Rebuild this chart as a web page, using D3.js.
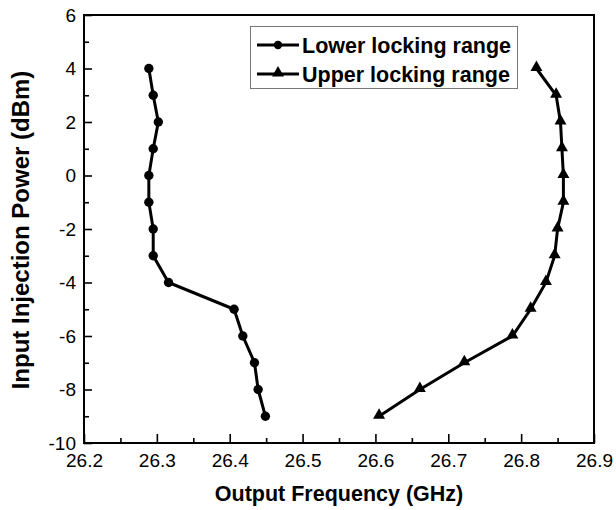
<!DOCTYPE html>
<html>
<head>
<meta charset="utf-8">
<script src="https://cdn.jsdelivr.net/npm/d3@7"></script>
<style>
  body { margin: 0; background: #fff; }
  text { font-family: "Liberation Sans", Arial, sans-serif; fill: #000; }
</style>
</head>
<body>
<div id="chart"></div>
<script>
// input power (dBm) for each measured point
var power = [4, 3, 2, 1, 0, -1, -2, -3, -4, -5, -6, -7, -8, -9];
// lower edge of locking range (GHz)
var lowerFreq = [26.289, 26.295, 26.302, 26.295, 26.289, 26.289, 26.295, 26.295,
                 26.316, 26.406, 26.418, 26.434, 26.439, 26.449];
// upper edge of locking range (GHz)
var upperFreq = [26.821, 26.848, 26.854, 26.856, 26.858, 26.858, 26.850, 26.846,
                 26.834, 26.813, 26.788, 26.722, 26.661, 26.605];

var xTicks = [26.2, 26.3, 26.4, 26.5, 26.6, 26.7, 26.8, 26.9];
var xMinor = [26.25, 26.35, 26.45, 26.55, 26.65, 26.75, 26.85];
var yTicks = [-10, -8, -6, -4, -2, 0, 2, 4, 6];
var yMinor = [-9, -7, -5, -3, -1, 1, 3, 5];

var seriesNames = ['Lower locking range', 'Upper locking range'];

var width = 616,
    height = 510;

var svg = d3.select('#chart')
    .append('svg')
    .attr('width', width)
    .attr('height', height);

var x = d3.scaleLinear().domain([26.2, 26.9]).range([84, 594]);
var y = d3.scaleLinear().domain([-10, 6]).range([443, 15]);

// frame
svg.append('rect')
    .attr('x', x(26.2))
    .attr('y', y(6))
    .attr('width', x(26.9) - x(26.2))
    .attr('height', y(-10) - y(6))
    .attr('fill', 'none')
    .attr('stroke', '#000')
    .attr('stroke-width', 2);

var styleAxis = function (g) {
    g.select('.domain').remove();
    g.selectAll('line').attr('stroke', '#000').attr('stroke-width', 1.6);
    g.selectAll('text')
        .attr('font-size', 19)
        .attr('font-family', '"Liberation Sans", Arial, sans-serif')
        .attr('fill', '#000');
};

// x axis, ticks pointing inward
svg.append('g')
    .attr('transform', 'translate(0,' + y(-10) + ')')
    .call(d3.axisBottom(x).tickValues(xMinor).tickSize(-5).tickFormat(''))
    .call(styleAxis);
svg.append('g')
    .attr('transform', 'translate(0,' + y(-10) + ')')
    .call(d3.axisBottom(x).tickValues(xTicks).tickSize(-9).tickPadding(10.5)
        .tickFormat(function (d) { return d.toFixed(1); }))
    .call(styleAxis);

// y axis
svg.append('g')
    .attr('transform', 'translate(' + x(26.2) + ',0)')
    .call(d3.axisLeft(y).tickValues(yMinor).tickSize(-5).tickFormat(''))
    .call(styleAxis);
svg.append('g')
    .attr('transform', 'translate(' + x(26.2) + ',0)')
    .call(d3.axisLeft(y).tickValues(yTicks).tickSize(-8).tickPadding(8)
        .tickFormat(function (d) { return String(d); }))
    .call(styleAxis);

// axis titles
svg.append('text')
    .attr('x', (x(26.2) + x(26.9)) / 2)
    .attr('y', 501)
    .attr('text-anchor', 'middle')
    .attr('font-size', 21.5)
    .attr('font-weight', 'bold')
    .text('Output Frequency (GHz)');

svg.append('text')
    .attr('transform', 'translate(29,' + 230 + ') rotate(-90)')
    .attr('text-anchor', 'middle')
    .attr('font-size', 24)
    .attr('font-weight', 'bold')
    .text('Input Injection Power (dBm)');

var line = d3.line()
    .x(function (d) { return x(d.f); })
    .y(function (d) { return y(d.p); });

var lowerData = power.map(function (p, i) { return { p: p, f: lowerFreq[i] }; });
var upperData = power.map(function (p, i) { return { p: p, f: upperFreq[i] }; });

var triangle = d3.symbol().type(d3.symbolTriangle).size(62);

// lower series
svg.append('path')
    .datum(lowerData)
    .attr('d', line)
    .attr('fill', 'none')
    .attr('stroke', '#000')
    .attr('stroke-width', 3);
svg.selectAll('.lower-pt')
    .data(lowerData)
    .enter()
    .append('circle')
    .attr('class', 'lower-pt')
    .attr('cx', function (d) { return x(d.f); })
    .attr('cy', function (d) { return y(d.p); })
    .attr('r', 4.7)
    .attr('fill', '#000');

// upper series
svg.append('path')
    .datum(upperData)
    .attr('d', line)
    .attr('fill', 'none')
    .attr('stroke', '#000')
    .attr('stroke-width', 3);
svg.selectAll('.upper-pt')
    .data(upperData)
    .enter()
    .append('path')
    .attr('class', 'upper-pt')
    .attr('d', triangle)
    .attr('transform', function (d) { return 'translate(' + x(d.f) + ',' + (y(d.p) - 1) + ')'; })
    .attr('fill', '#000');

// legend
var legend = svg.append('g');
legend.append('rect')
    .attr('x', 250.5)
    .attr('y', 26.5)
    .attr('width', 267)
    .attr('height', 62)
    .attr('fill', '#fff')
    .attr('stroke', '#777')
    .attr('stroke-width', 1);

seriesNames.forEach(function (name, i) {
    var cy = 45 + i * 29;
    legend.append('line')
        .attr('x1', 257)
        .attr('x2', 299)
        .attr('y1', cy)
        .attr('y2', cy)
        .attr('stroke', '#000')
        .attr('stroke-width', 3);
    if (i === 0) {
        legend.append('circle')
            .attr('cx', 278)
            .attr('cy', cy)
            .attr('r', 4.2)
            .attr('fill', '#000');
    } else {
        legend.append('path')
            .attr('d', triangle)
            .attr('transform', 'translate(278,' + (cy - 1) + ')')
            .attr('fill', '#000');
    }
    legend.append('text')
        .attr('x', 302)
        .attr('y', cy + 7.5)
        .attr('font-size', 21.5)
        .attr('font-weight', 'bold')
        .text(name);
});
</script>
</body>
</html>
